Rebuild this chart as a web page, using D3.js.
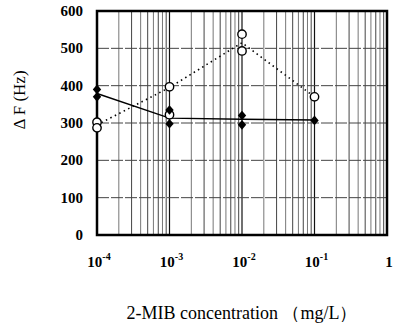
<!DOCTYPE html>
<html>
<head>
<meta charset="utf-8">
<script src="https://cdn.jsdelivr.net/npm/d3@7"></script>
<style>
  html, body { margin: 0; padding: 0; background: #fff; }
  svg { display: block; }
  text { font-family: "Liberation Serif", "DejaVu Serif", serif; }
</style>
</head>
<body>
<div id="chart"></div>
<script>
// concentrations (mg/L) of the four measured points
const concentrations = [1e-4, 1e-3, 1e-2, 1e-1];

// filled diamonds
const diamondX = [1e-4, 1e-4, 1e-3, 1e-3, 1e-2, 1e-2, 1e-1];
const diamondY = [390, 370, 335, 298, 320, 295, 307];

// open circles
const circleX = [1e-4, 1e-4, 1e-3, 1e-3, 1e-2, 1e-2, 1e-1];
const circleY = [302, 287, 397, 322, 538, 493, 370];

// connecting lines
const solidLine = [379, 313, 310, 308];
const dottedLine = [295, 395, 515, 370];

const yTicks = [0, 100, 200, 300, 400, 500, 600];
const xTickExps = [-4, -3, -2, -1, 0];

const width = 393, height = 328;
const margin = { top: 11, right: 6, bottom: 93, left: 97 };
const innerW = width - margin.left - margin.right;
const innerH = height - margin.top - margin.bottom;

const svg = d3.select("#chart").append("svg")
  .attr("width", width)
  .attr("height", height);

const g = svg.append("g").attr("transform", `translate(${margin.left},${margin.top})`);

const x = d3.scaleLog().domain([1e-4, 1]).range([0, innerW]);
const y = d3.scaleLinear().domain([0, 600]).range([innerH, 0]);

// vertical grid: minor lines for 2..9 in each decade, decades darker
const minor = [];
for (let e = -4; e < 0; e++) {
  for (let m = 2; m <= 9; m++) minor.push(m * Math.pow(10, e));
}
g.append("g").selectAll("line").data(minor).join("line")
  .attr("x1", d => x(d)).attr("x2", d => x(d))
  .attr("y1", 0).attr("y2", innerH)
  .attr("stroke", (d, i) => i % 2 ? "#444" : "#777")
  .attr("stroke-width", 1);

g.append("g").selectAll("line").data(xTickExps.slice(1, -1)).join("line")
  .attr("x1", d => x(Math.pow(10, d))).attr("x2", d => x(Math.pow(10, d)))
  .attr("y1", 0).attr("y2", innerH)
  .attr("stroke", "#111")
  .attr("stroke-width", 1.2);

// horizontal grid
g.append("g").selectAll("line").data(yTicks.slice(1, -1)).join("line")
  .attr("x1", 0).attr("x2", innerW)
  .attr("y1", d => y(d)).attr("y2", d => y(d))
  .attr("stroke", "#444")
  .attr("stroke-width", 1)
  .attr("stroke-dasharray", "12,2");

// frame
g.append("rect")
  .attr("x", 0).attr("y", 0)
  .attr("width", innerW).attr("height", innerH)
  .attr("fill", "none")
  .attr("stroke", "#000")
  .attr("stroke-width", 2.5);

// y tick labels
g.append("g").selectAll("text").data(yTicks).join("text")
  .attr("x", -14)
  .attr("y", d => y(d) + 5)
  .attr("text-anchor", "end")
  .attr("font-weight", "bold")
  .attr("font-size", 15)
  .text(d => d);

// x tick labels (10 with superscript exponent)
const xl = g.append("g").selectAll("text").data(xTickExps).join("text")
  .attr("x", d => x(Math.pow(10, d)) + 2)
  .attr("y", innerH + 32)
  .attr("text-anchor", "middle")
  .attr("font-weight", "bold")
  .attr("font-size", 15);
xl.each(function(d) {
  const t = d3.select(this);
  if (d === 0) { t.text("1"); return; }
  t.append("tspan").text("10");
  t.append("tspan").attr("dy", -7).attr("font-size", 10).text(d);
});

// lines
const line = d3.line()
  .x((d, i) => x(concentrations[i]))
  .y(d => y(d));

g.append("path")
  .attr("d", line(solidLine))
  .attr("fill", "none")
  .attr("stroke", "#000")
  .attr("stroke-width", 1.4);

g.append("path")
  .attr("d", line(dottedLine))
  .attr("fill", "none")
  .attr("stroke", "#000")
  .attr("stroke-width", 1.6)
  .attr("stroke-dasharray", "1.5,3.5");

// open circles
g.append("g").selectAll("circle").data(circleY).join("circle")
  .attr("cx", (d, i) => x(circleX[i]))
  .attr("cy", d => y(d))
  .attr("r", 4.2)
  .attr("fill", "#fff")
  .attr("stroke", "#000")
  .attr("stroke-width", 1.4);

// filled diamonds
g.append("g").selectAll("path").data(diamondY).join("path")
  .attr("transform", (d, i) => `translate(${x(diamondX[i])},${y(d)})`)
  .attr("d", "M0,-4.8L4.2,0L0,4.8L-4.2,0Z")
  .attr("fill", "#000");

// axis titles
svg.append("text")
  .attr("transform", "translate(25,100) rotate(-90)")
  .attr("text-anchor", "middle")
  .attr("font-size", 17)
  .text("Δ F (Hz)");

svg.append("text")
  .attr("x", margin.left + innerW / 2)
  .attr("y", 319)
  .attr("text-anchor", "middle")
  .attr("font-size", 18)
  .text("2-MIB concentration （mg/L）");
</script>
</body>
</html>
